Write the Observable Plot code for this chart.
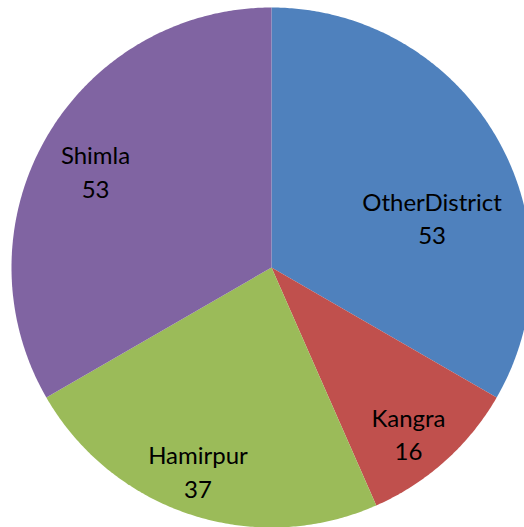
<!DOCTYPE html>
<html>
<head>
<meta charset="utf-8">
<script src="https://cdn.jsdelivr.net/npm/d3@7"></script>
<script src="https://cdn.jsdelivr.net/npm/@observablehq/plot@0.6"></script>
<style>
  html, body { margin: 0; padding: 0; background: #fff; }
</style>
</head>
<body>
<div id="chart"></div>
<script>
const categories = ["OtherDistrict", "Kangra", "Hamirpur", "Shimla"];
const values = [53, 16, 37, 53];
const colors = ["#4F81BD", "#C0504D", "#9BBB59", "#8064A2"];

// Layout (not data): best-fit label placement, angle shift from slice mid-angle (deg) and radius fraction
const labelFit = {
  "OtherDistrict": { shiftDeg: 12.4, r: 0.648 },
  "Kangra": { shiftDeg: 2.2, r: 0.825 },
  "Hamirpur": { shiftDeg: 1.8, r: 0.83 },
  "Shimla": { shiftDeg: -1.1, r: 0.773 }
};

const W = 524, H = 527;
const cx = 271, cy = 267, R = 260;

const arcs = d3.pie().sort(null)(values);

const slices = [];
arcs.forEach((a, i) => {
  const name = categories[i];
  slices.push({ name, x: 0, y: 0 });
  const n = Math.max(2, Math.ceil((a.endAngle - a.startAngle) / (Math.PI / 360)));
  for (let k = 0; k <= n; k++) {
    const t = a.startAngle + (a.endAngle - a.startAngle) * k / n;
    slices.push({ name, x: Math.sin(t), y: Math.cos(t) });
  }
});

const labels = arcs.map((a, i) => {
  const name = categories[i];
  const f = labelFit[name];
  const ang = (a.startAngle + a.endAngle) / 2 + f.shiftDeg * Math.PI / 180;
  return { name, text: `${name}\n${values[i]}`, x: f.r * Math.sin(ang), y: f.r * Math.cos(ang) };
});

const chart = Plot.plot({
  width: W,
  height: H,
  margin: 0,
  x: { domain: [-cx / R, (W - cx) / R], range: [0, W], axis: null },
  y: { domain: [-(H - cy) / R, cy / R], range: [H, 0], axis: null },
  color: { domain: categories, range: colors },
  style: { fontFamily: "Lato, 'Open Sans', sans-serif", background: "#fff" },
  marks: [
    Plot.line(slices, { x: "x", y: "y", z: "name", fill: "name", stroke: null, curve: "linear-closed" }),
    Plot.text(labels, { x: "x", y: "y", text: "text", fontSize: 24, lineHeight: 1.38, fill: "#000", lineAnchor: "middle" })
  ]
});
document.getElementById("chart").appendChild(chart);
</script>
</body>
</html>
